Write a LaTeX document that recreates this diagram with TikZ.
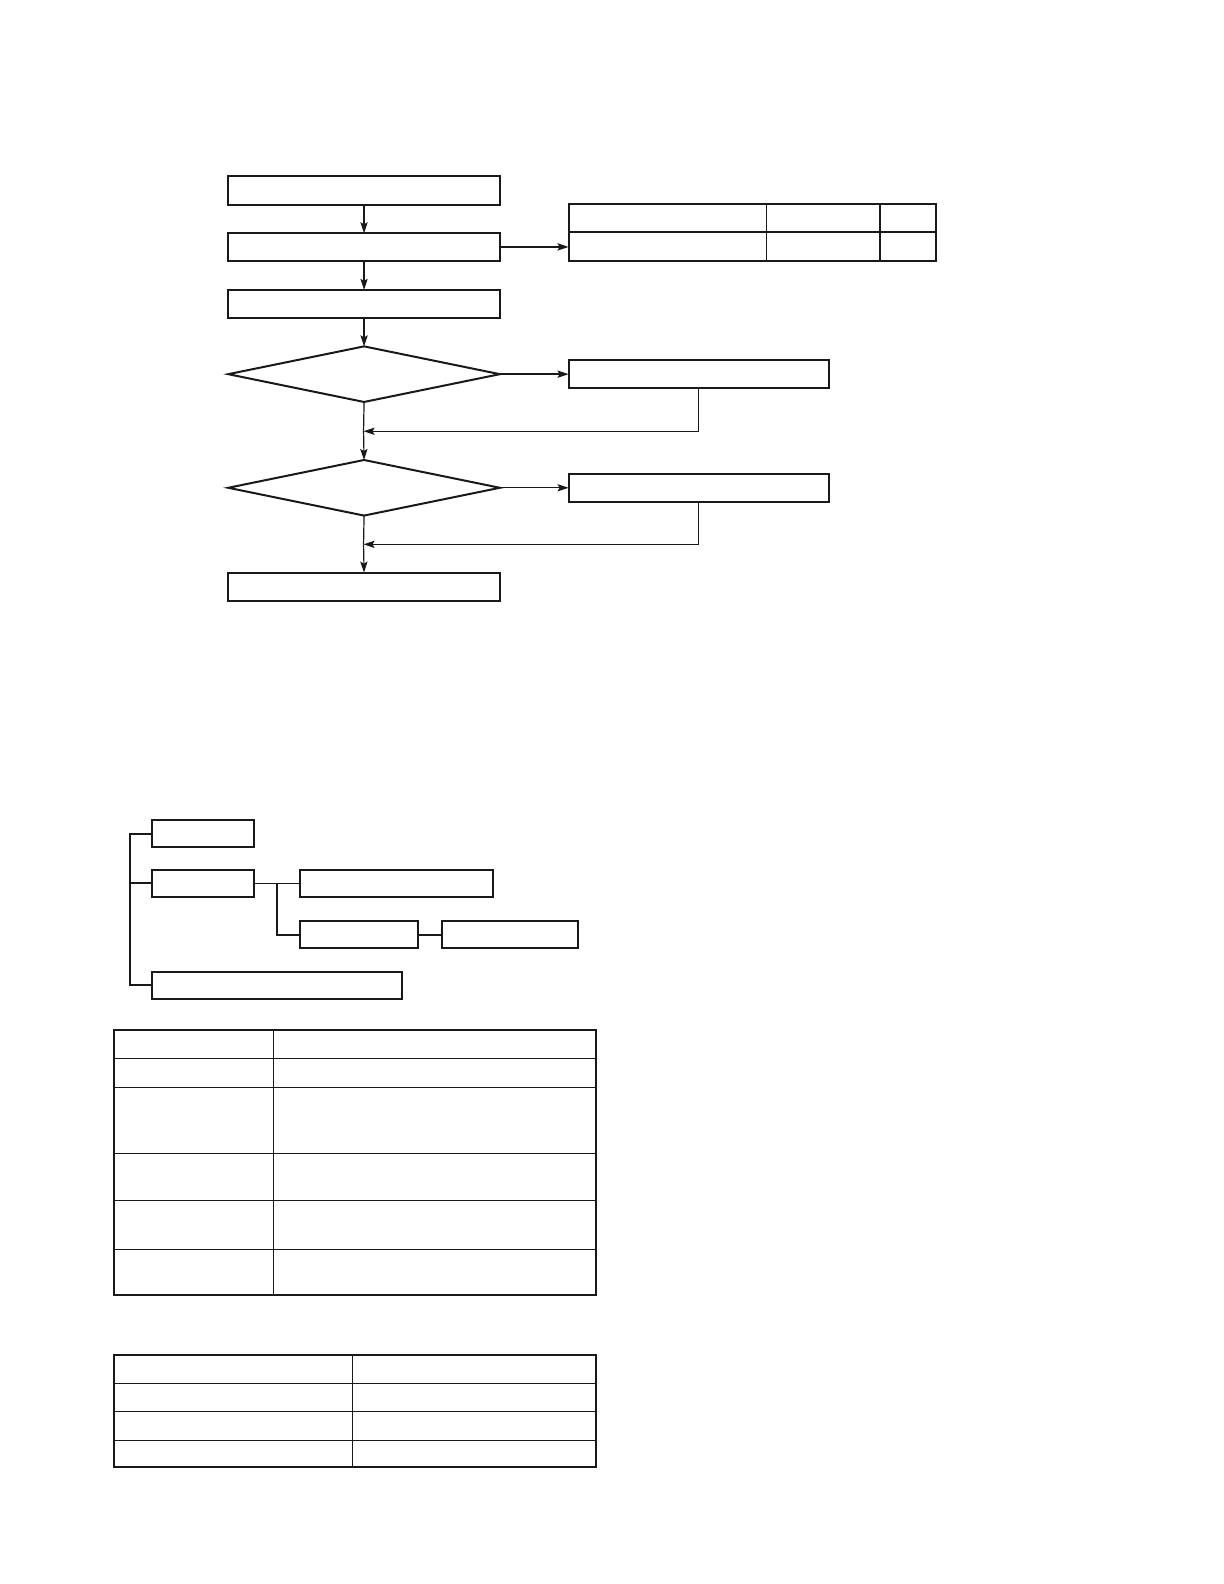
\documentclass[tikz,border=0pt]{standalone}
\usetikzlibrary{arrows.meta,fit,shapes.geometric}
\begin{document}
\begin{tikzpicture}[x=0.50495pt,y=-0.50495pt,
  box/.style={draw=black!90,line width=1pt,inner sep=0pt,outer sep=0pt},
  dia/.style={draw=black!90,line width=1pt,diamond,inner sep=0pt,outer sep=0pt,minimum width=135.8pt,minimum height=27.8pt},
  conn/.style={draw=black!90,line width=0.6pt},
  arr/.style={conn,-{Stealth[length=5.5pt,width=3.6pt,inset=1pt]}},
  grid/.style={draw=black!90,line width=0.6pt},
  frame/.style={draw=black!90,line width=1.05pt}]
\useasboundingbox (0,0) rectangle (1212,1568.5);
% ---- flowchart ----
\node[box,fit={(226,174)(495,203)}] (b1) {};
\node[box,fit={(226,231)(495,258)}] (b2) {};
\node[box,fit={(226,287)(495,315)}] (b3) {};
\node[dia] (d1) at (360.5,370.5) {};
\node[dia] (d2) at (360.5,483) {};
\node[box,fit={(226,567)(495,595)}] (b4) {};
% table on the right
\node[box,fit={(563,202)(927,258)}] (t0) {};
\draw[box] (563,230) -- (927,230);
\draw[grid] (759,202) -- (759,258);
\draw[box] (871,202) -- (871,258);
\node[box,fit={(563,356)(821,384)}] (r1) {};
\node[box,fit={(563,469)(821,497)}] (r2) {};
\coordinate (j1) at (360,427);
\coordinate (j2) at (360,539);
\draw[arr] (b1) -- (b2);
\draw[arr] (b2) -- (b3);
\draw[arr] (b3) -- (d1);
\draw[arr,line width=0.9pt] (b2.east) -- (t0.west |- b2.east);
\draw[arr,line width=0.8pt] (d1.east) -- (r1.west |- d1.east);
\draw[arr] (d2.east) -- (r2.west |- d2.east);
\draw[conn] (d1.south) -- (j1);
\draw[arr] (j1) -- (d2.north);
\draw[conn] (d2.south) -- (j2);
\draw[arr] (j2) -- (b4.north);
\draw[arr] (r1.south -| 692,0) |- (j1);
\draw[arr] (r2.south -| 692,0) |- (j2);
% ---- tree ----
\node[box,fit={(151,812)(252,839)}] (ta) {};
\node[box,fit={(151,861)(252,888)}] (tb) {};
\node[box,fit={(297,861)(488,888)}] (tc) {};
\node[box,fit={(297,912)(414,939)}] (td) {};
\node[box,fit={(438,912)(572,939)}] (te) {};
\node[box,fit={(151,962)(398,989)}] (tf) {};
\draw[box] (ta.west) -| (129,975.5) -- (tf.west);
\draw[box] (tb.west) -- (129,874.5);
\draw[conn] (tb.east) -- (tc.west);
\draw[box] (274,874.5) |- (td.west);
\draw[box] (td.east) -- (te.west);
% ---- table 1 ----
\draw[frame] (113,1020) rectangle (590,1282);
\draw[grid] (271,1020) -- (271,1282);
\foreach \yy in {1048,1077,1142,1189,1237} \draw[grid] (113,\yy) -- (590,\yy);
% ---- table 2 ----
\draw[frame] (113,1342) rectangle (590,1453);
\draw[grid] (349,1342) -- (349,1453);
\foreach \yy in {1370,1398,1426} \draw[grid] (113,\yy) -- (590,\yy);
\end{tikzpicture}
\end{document}
